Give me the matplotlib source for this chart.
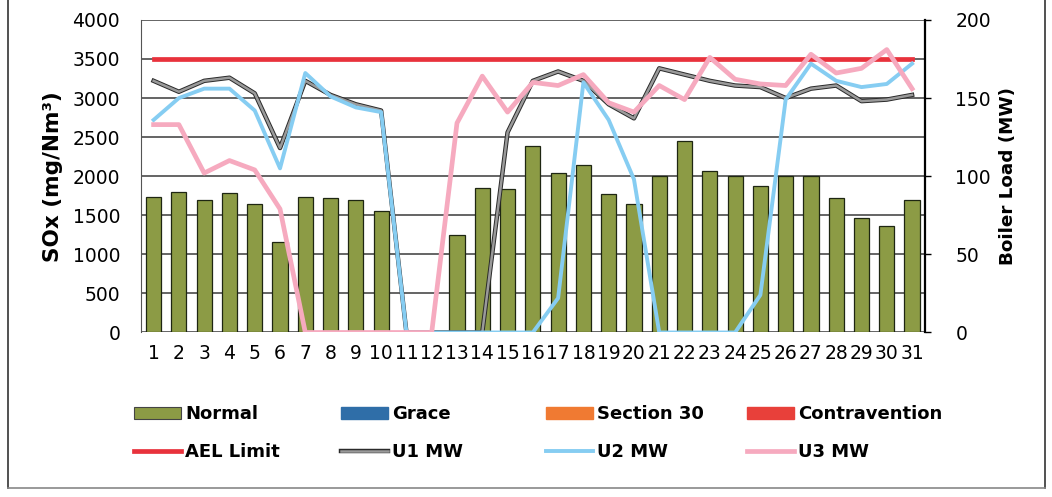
import matplotlib
matplotlib.use("Agg")
import numpy as np
import matplotlib.pyplot as plt
import matplotlib.patheffects as pe
from matplotlib.lines import Line2D
from matplotlib.patches import Patch

# daily data, one value per day of the month
days = [str(d) for d in range(1, 32)]
normal = [1730, 1800, 1700, 1780, 1650, 1160, 1740, 1720, 1700, 1550,
          0, 0, 1250, 1850, 1840, 2390, 2040, 2140, 1770, 1640,
          2000, 2450, 2070, 2000, 1880, 2000, 2000, 1720, 1460, 1360, 1690]
grace = [0] * 31
section30 = [0] * 31
contravention = [0] * 31
ael_limit = [3500] * 31

u1_mw = [161, 154, 161, 163, 153, 118, 161, 152, 146, 142,
         0, 0, 0, 0, 128, 161, 167, 161, 146, 137,
         169, 165, 161, 158, 157, 150, 156, 158, 148, 149, 152]
u2_mw = [136, 150, 156, 156, 142, 105, 166, 151, 144, 141,
         0, 0, 0, 0, 0, 0, 22, 160, 136, 98,
         0, 0, 0, 0, 24, 149, 172, 161, 157, 159, 172]
u3_mw = [133, 133, 102, 110, 104, 79, 0, 0, 0, 0,
         0, 0, 134, 164, 141, 160, 158, 165, 147, 141,
         158, 149, 176, 162, 159, 158, 178, 166, 169, 181, 156]

col_normal = "#8c9b45"
col_grace = "#2f6ea8"
col_s30 = "#f07a32"
col_contra = "#e8403a"
col_ael = "#e8323c"
col_u1 = "#9a9a9a"
col_u2 = "#86cdf2"
col_u3 = "#f6aabf"

tick_fs = 13.5
legend_fs = 13

fig = plt.figure(figsize=(10.52, 4.97), dpi=100)
ax = fig.add_axes([0.134, 0.331, 0.745, 0.629])
ax2 = ax.twinx()

x = np.arange(len(days))

# stacked columns (only Normal has values this month)
ax.bar(x, normal, width=0.6, color=col_normal, edgecolor="#1e2612", linewidth=0.9, zorder=2)
bottom = np.array(normal)
ax.bar(x, grace, width=0.6, bottom=bottom, color=col_grace, linewidth=0, zorder=2)
bottom = bottom + np.array(grace)
ax.bar(x, section30, width=0.6, bottom=bottom, color=col_s30, linewidth=0, zorder=2)
bottom = bottom + np.array(section30)
ax.bar(x, contravention, width=0.6, bottom=bottom, color=col_contra, linewidth=0, zorder=2)

ax.set_xlim(-0.5, len(days) - 0.5)
ax.set_ylim(0, 4000)
ax.set_yticks(np.arange(0, 4001, 500))
ax.set_xticks(x)
ax.set_xticklabels(days)
ax.tick_params(axis="x", length=0, pad=8, labelsize=tick_fs)
ax.tick_params(axis="y", length=0, pad=15, labelsize=tick_fs)
ax.yaxis.grid(True, color="#3a3a3a", linewidth=1.1)
ax.set_axisbelow(True)
ax.set_ylabel("SOx (mg/Nm³)", fontsize=15.5, fontweight="bold", labelpad=7)

for s in ["top", "bottom"]:
    ax.spines[s].set_visible(False)
ax.spines["left"].set_color("#555555")
ax.spines["right"].set_visible(False)

# MW lines on the secondary axis
ax2.set_ylim(0, 200)
ax2.set_yticks([0, 50, 100, 150, 200])
ax2.tick_params(axis="y", length=4, width=1, pad=18, labelsize=tick_fs, direction="out")
ax2.set_ylabel("Boiler Load (MW)", fontsize=13.2, fontweight="bold", labelpad=6)
for s in ["top", "bottom", "left"]:
    ax2.spines[s].set_visible(False)
ax2.spines["right"].set_color("black")
ax2.spines["right"].set_linewidth(1.6)

ax.plot(x, ael_limit, color=col_ael, linewidth=3.4, zorder=5)
ax.patch.set_visible(False)
ax2.plot(x, u1_mw, color=col_u1, linewidth=1.8,
         path_effects=[pe.Stroke(linewidth=3.2, foreground="#2a2a2a"), pe.Normal()])
ax2.plot(x, u2_mw, color=col_u2, linewidth=2.8)
ax2.plot(x, u3_mw, color=col_u3, linewidth=3.4)

# legend, laid out in four fixed columns like the original
entries = [
    [(Patch(facecolor=col_normal, edgecolor="#444444", linewidth=0.8), "Normal"),
     (Line2D([], [], color=col_ael, linewidth=3.4), "AEL Limit")],
    [(Patch(facecolor=col_grace, edgecolor=col_grace), "Grace"),
     (Line2D([], [], color=col_u1, linewidth=1.8,
             path_effects=[pe.Stroke(linewidth=3.2, foreground="#2a2a2a"), pe.Normal()]), "U1 MW")],
    [(Patch(facecolor=col_s30, edgecolor=col_s30), "Section 30"),
     (Line2D([], [], color=col_u2, linewidth=2.8), "U2 MW")],
    [(Patch(facecolor=col_contra, edgecolor=col_contra), "Contravention"),
     (Line2D([], [], color=col_u3, linewidth=3.4), "U3 MW")],
]
col_x = [125, 332, 537, 738]
for cx, col in zip(col_x, entries):
    leg = fig.legend([h for h, _ in col], [t for _, t in col],
                     loc="upper left", bbox_to_anchor=(cx / 1052, 1 - 396 / 497),
                     frameon=False, handlelength=2.6, handleheight=0.65,
                     handletextpad=0.25, labelspacing=1.1, borderpad=0,
                     prop={"size": legend_fs, "weight": "bold"})

# outer frame of the chart
fig.add_artist(Line2D([8 / 1052, 8 / 1052], [9 / 497, 1], color="#333333", linewidth=1.2))
fig.add_artist(Line2D([1045 / 1052, 1045 / 1052], [9 / 497, 1], color="#333333", linewidth=1.2))
fig.add_artist(Line2D([8 / 1052, 1045 / 1052], [9 / 497, 9 / 497], color="#888888", linewidth=1.2))

fig.savefig("out.png", dpi=100)
